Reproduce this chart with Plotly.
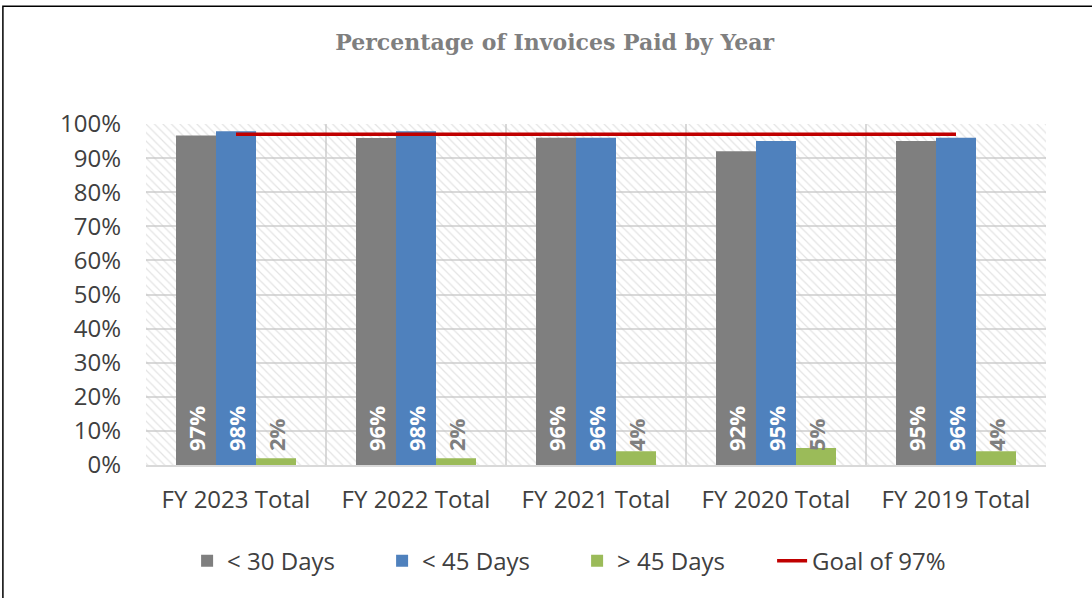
import plotly.graph_objects as go

categories = ["FY 2023 Total", "FY 2022 Total", "FY 2021 Total", "FY 2020 Total", "FY 2019 Total"]
under_30 = [96.6, 95.9, 96.0, 92.0, 95.0]
under_45 = [97.9, 97.9, 96.0, 95.0, 96.0]
over_45 = [2.0, 2.0, 4.0, 5.0, 4.0]
goal = 97
y_ticks = [0, 10, 20, 30, 40, 50, 60, 70, 80, 90, 100]

xs = list(range(len(categories)))
LABEL_FONT = "Open Sans"
TICK_FONT = "Open Sans"
XR = [-0.5, len(categories) - 0.5]

fig = go.Figure()

# hatched plot-area background (own subplot, drawn beneath the bars)
fig.add_trace(go.Bar(
    x=[(XR[0] + XR[1]) / 2], y=[100], width=[XR[1] - XR[0]], xaxis="x", showlegend=False,
    hoverinfo="skip",
    marker=dict(color="rgba(0,0,0,0)", line=dict(width=0),
                pattern=dict(shape="\\", fgcolor="#c8c8c8", size=6, solidity=0.2, fillmode="overlay")),
))

def pct(v):
    return ["\u2002" + f"{round(x):d}%" for x in v]

series = [
    ("< 30 Days", under_30, "#7f7f7f", "white"),
    ("< 45 Days", under_45, "#4f81bd", "white"),
    ("> 45 Days", over_45, "#9bbb59", "#7f7f7f"),
]
for name, vals, col, tcol in series:
    fig.add_trace(go.Bar(
        x=xs, y=vals, name=name, xaxis="x2", marker=dict(color=col, line=dict(width=0)),
        text=pct(vals), textposition="inside", insidetextanchor="start", textangle=-90,
        constraintext="none", cliponaxis=False,
        textfont=dict(family=LABEL_FONT, size=22, color=tcol, weight="bold"),
    ))

fig.add_trace(go.Scatter(
    x=[xs[0], xs[-1]], y=[goal, goal], mode="lines", name="Goal of 97%", xaxis="x2",
    line=dict(color="#c00000", width=3.5),
))

fig.update_layout(
    width=1092, height=598,
    margin=dict(l=146, r=46, t=124, b=133),
    paper_bgcolor="white", plot_bgcolor="white",
    barmode="group", bargap=1/3, bargroupgap=0,
    title=dict(text="<b>Percentage of Invoices Paid by Year</b>", x=0.508, xanchor="center",
               y=0.93, yanchor="middle",
               font=dict(family="DejaVu Serif", size=22, color="#7f7f7f")),
    xaxis=dict(range=XR, tickvals=xs, ticktext=categories, showgrid=False,
               showline=True, linecolor="#d9d9d9", linewidth=2, ticks="", zeroline=False,
               ticklabelstandoff=12,
               tickfont=dict(family=TICK_FONT, size=24, color="#404040"),
               minor=dict(tickvals=[i - 0.5 for i in range(len(categories) + 1)], showgrid=True,
                          gridcolor="#d9d9d9", gridwidth=2, ticks="")),
    xaxis2=dict(range=XR, overlaying="x", visible=False),
    yaxis=dict(range=[0, 100], tickvals=y_ticks, ticktext=[f"{t}%" for t in y_ticks], showgrid=True,
               gridcolor="#d9d9d9", gridwidth=2, zeroline=False, ticks="",
               ticklabelstandoff=24,
               tickfont=dict(family=TICK_FONT, size=24, color="#404040")),
    legend=dict(orientation="h", x=0.479, xanchor="center", y=-0.282, yanchor="middle",
                font=dict(family=TICK_FONT, size=24, color="#404040"), entrywidth=150,
                traceorder="normal"),
    shapes=[dict(type="rect", xref="paper", yref="paper", x0=-0.159, x1=1.1, y0=-0.45, y1=1.345,
                 line=dict(color="black", width=1.5))],
)

fig.write_html("out.html", config={"displayModeBar": False},
               post_script="document.body.style.margin='0px';")
